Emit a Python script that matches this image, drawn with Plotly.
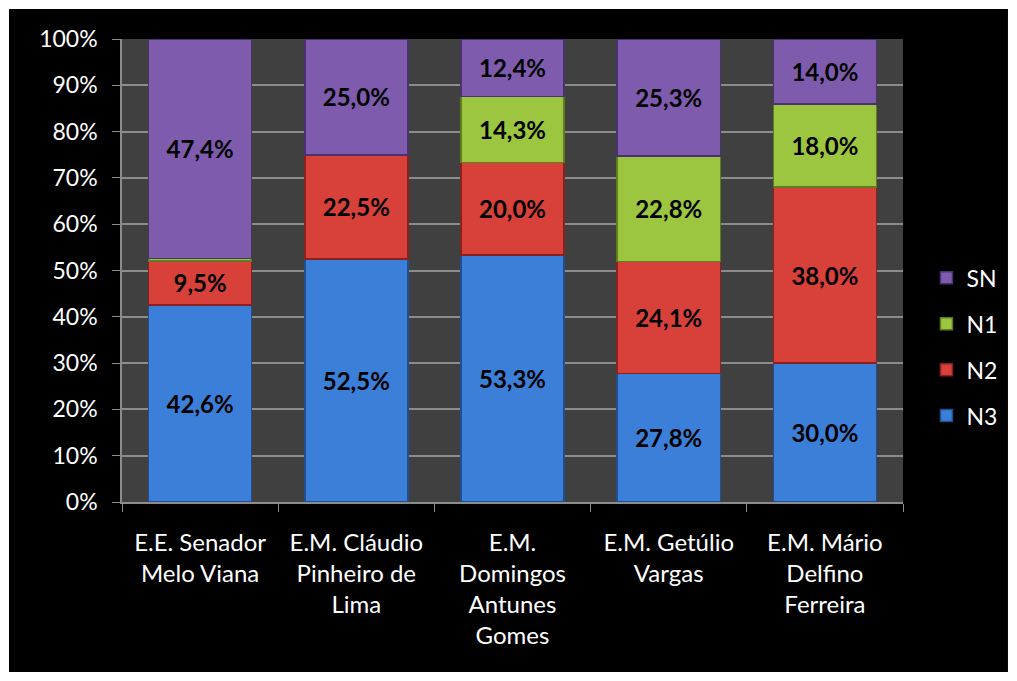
import plotly.graph_objects as go

schools = ["E.E. Senador<br>Melo Viana", "E.M. Cláudio<br>Pinheiro de<br>Lima",
           "E.M.<br>Domingos<br>Antunes<br>Gomes", "E.M. Getúlio<br>Vargas",
           "E.M. Mário<br>Delfino<br>Ferreira"]
n3 = [42.6, 52.5, 53.3, 27.8, 30.0]
n2 = [9.5, 22.5, 20.0, 24.1, 38.0]
n1 = [0.5, 0.0, 14.3, 22.8, 18.0]
sn = [47.4, 25.0, 12.4, 25.3, 14.0]

series = [("N3", n3, "#3c7fd8", "#1f4f8f"),
          ("N2", n2, "#d8403a", "#8a211d"),
          ("N1", n1, "#9cc63f", "#5d7d1f"),
          ("SN", sn, "#7f5bae", "#4a3270")]

FONT = "Lato"


def fmt(v):
    return f"{v:.1f}%".replace(".", ",") if v >= 1 else ""


fig = go.Figure()
for i, (name, vals, color, edge) in enumerate(series):
    fig.add_trace(go.Bar(
        x=schools, y=vals, name=name, legendgroup=name,
        legendrank=len(series) - i,
        marker=dict(color=color, line=dict(color=edge, width=1.5)),
        text=[fmt(v) for v in vals], textposition="inside",
        insidetextanchor="middle", textangle=0,
        textfont=dict(family=FONT, size=24, color="black", weight="bold"),
        hovertemplate="%{y:.1f}%<extra>" + name + "</extra>",
    ))

# black card with white frame, dark plot area
fig.add_shape(type="rect", xref="paper", yref="paper", layer="below",
              x0=-0.1447, x1=1.1344, y0=-0.367, y1=1.0648,
              fillcolor="black", line_width=0)
fig.add_shape(type="rect", xref="paper", yref="paper", layer="below",
              x0=0, x1=1, y0=0, y1=1, fillcolor="#404040", line_width=0)

# page body adds 8px margin, so the figure is 8px smaller and shifted
fig.update_layout(
    width=1009, height=673,
    margin=dict(l=114, r=114, t=31, b=179),
    paper_bgcolor="white", plot_bgcolor="#404040",
    barmode="stack", bargap=0.34,
    uniformtext=dict(mode="show", minsize=10),
    font=dict(family=FONT, color="white", size=23),
    legend=dict(x=1.03, xanchor="left", y=0.335, yanchor="middle",
                traceorder="grouped", tracegroupgap=13,
                font=dict(family=FONT, size=23, color="white"),
                bgcolor="rgba(0,0,0,0)", itemwidth=30),
    showlegend=True,
)
fig.update_yaxes(range=[0, 100], dtick=10, ticksuffix="%",
                 showgrid=True, gridcolor="#8c8c8c", gridwidth=1.5,
                 showline=True, linecolor="#8c8c8c", linewidth=1.5,
                 ticks="outside", ticklen=8, tickcolor="#8c8c8c",
                 ticklabelstandoff=10,
                 tickfont=dict(family=FONT, size=23, color="white"),
                 zeroline=False, fixedrange=True)
fig.update_xaxes(showline=True, linecolor="#8c8c8c", linewidth=1.5,
                 ticks="outside", ticklen=8, tickcolor="#8c8c8c",
                 tickson="boundaries", ticklabelstandoff=18,
                 tickfont=dict(family=FONT, size=24, color="white"),
                 fixedrange=True)

fig.write_html("out.html")
